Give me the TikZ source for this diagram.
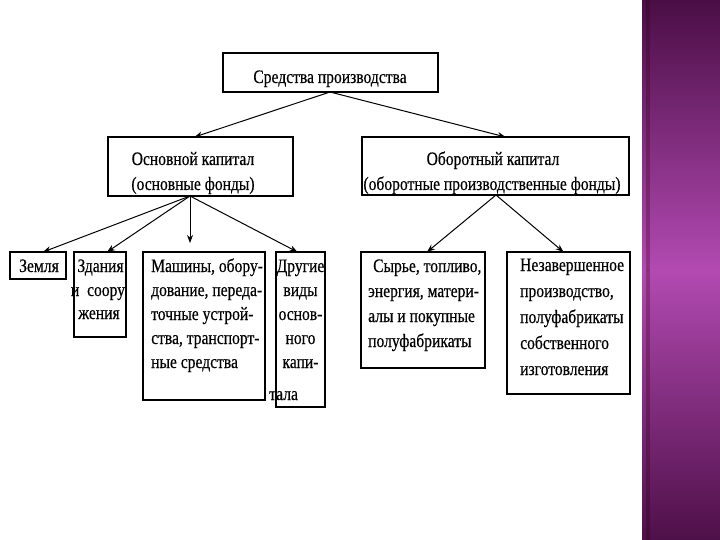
\documentclass[tikz,border=0pt]{standalone}
\usepackage{fontspec}
\setmainfont{Liberation Serif}[FakeStretch=0.82,FakeBold=0.4]
\usetikzlibrary{arrows.meta,calc}
\begin{document}
\begin{tikzpicture}[x=1pt,y=-1pt,
  box/.style={draw,line width=1.4pt,inner sep=0pt,outer sep=0pt},
  txt/.style={inner sep=0pt,anchor=base,font=\fontsize{19}{24}\selectfont},
  txtl/.style={txt,anchor=base west},
  arr/.style={line width=1pt,-{Stealth[length=8pt,width=6pt]}}]
\useasboundingbox (0,0) rectangle (720,540);
\fill[white] (0,0) rectangle (642,540);
% purple side bar
\fill[top color={rgb,255:red,74;green,14;blue,69},bottom color={rgb,255:red,178;green,74;blue,178}]
  (642,0) rectangle (720,270.5);
\fill[top color={rgb,255:red,178;green,74;blue,178},bottom color={rgb,255:red,78;green,16;blue,72}]
  (642,270) rectangle (720,540);
\fill[top color={rgb,255:red,100;green,12;blue,80},bottom color={rgb,255:red,200;green,60;blue,170},opacity=0.45]
  (646,0) rectangle (650,270.5);
\fill[top color={rgb,255:red,200;green,60;blue,170},bottom color={rgb,255:red,100;green,12;blue,80},opacity=0.45]
  (646,270) rectangle (650,540);

% boxes
\node[box,minimum width=215,minimum height=39] (top) at (330.5,72.5) {};
\node[box,minimum width=185,minimum height=59] (osn) at (200.5,166.5) {};
\node[box,minimum width=267,minimum height=58] (obr) at (495.5,166) {};
\node[box,minimum width=56,minimum height=27] (zem) at (38,265.5) {};
\node[box,minimum width=52,minimum height=85] (zd) at (100,294.5) {};
\node[box,minimum width=122,minimum height=148] (mash) at (204,326) {};
\node[box,minimum width=49,minimum height=155] (dr) at (300.5,329.5) {};
\node[box,minimum width=124,minimum height=116] (syr) at (423,310) {};
\node[box,minimum width=123,minimum height=142] (nez) at (568.5,323) {};

% texts
\node[txt] at (330,83) {Средства производства};
\node[txt] at (193,165) {Основной капитал};
\node[txt] at (193,190) {(основные фонды)};
\node[txt] at (493,165) {Оборотный капитал};
\node[txt] at (492,190) {(оборотные производственные фонды)};
\node[txt] at (39,272) {Земля};
\node[txt] at (100.5,272) {Здания};
\node[txt] at (98,296) {и\ \ соору};
\node[txt] at (99,319) {жения};
\node[txtl] at (151,272) {Машины, обору-};
\node[txtl] at (151,296) {дование, переда-};
\node[txtl] at (151,320) {точные устрой-};
\node[txtl] at (151,344) {ства, транспорт-};
\node[txtl] at (151,368) {ные средства};
\node[txt] at (300.5,272) {Другие};
\node[txt] at (300.5,296) {виды};
\node[txt] at (300.5,320) {основ-};
\node[txt] at (300.5,344) {ного};
\node[txt] at (300.5,368) {капи-};
\node[txtl] at (269,400) {тала};
\node[txtl] at (373,272) {Сырье, топливо,};
\node[txtl] at (368,297) {энергия, матери-};
\node[txtl] at (368,322) {алы и покупные};
\node[txtl] at (368,347) {полуфабрикаты};
\node[txtl] at (520,271) {Незавершенное};
\node[txtl] at (520,297) {производство,};
\node[txtl] at (520,323) {полуфабрикаты};
\node[txtl] at (520,349) {собственного};
\node[txtl] at (520,375) {изготовления};

% connectors
\coordinate (ta) at (330,92);
\coordinate (oa) at (190,196);
\coordinate (ba) at (496,195);
\draw[arr] (ta) -- ($(osn.north)+(-6,0)$);
\draw[arr] (ta) -- ($(obr.north)+(10,0)$);
\draw[arr] (oa) -- ($(zem.north)+(5,0)$);
\draw[arr] (oa) -- ($(zd.north)+(7,0)$);
\draw[arr,shorten >=9pt] (oa) -- (mash.north -| oa);
\draw[arr] (oa) -- ($(dr.north)+(-3,0)$);
\draw[arr] (ba) -- ($(syr.north)+(4,0)$);
\draw[arr] (ba) -- ($(nez.north)+(-5,0)$);
\end{tikzpicture}
\end{document}
